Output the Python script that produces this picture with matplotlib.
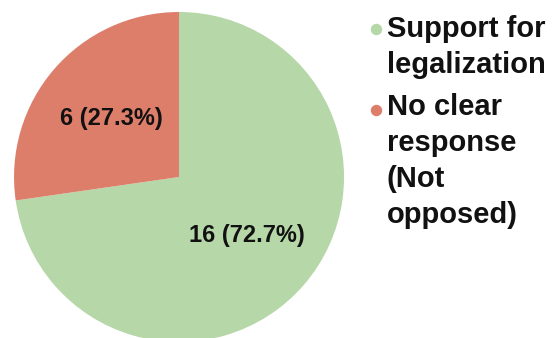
import matplotlib.pyplot as plt
from matplotlib.lines import Line2D

# data
labels = ["Support for\nlegalization", "No clear\nresponse\n(Not\nopposed)"]
counts = [16, 6]
colors = ["#b6d7a8", "#dd7e6b"]

plt.rcParams['font.family'] = ['Liberation Sans', 'DejaVu Sans']

fig = plt.figure(figsize=(5.54, 3.38), dpi=100)
ax = fig.add_axes([0.0253, -0.0118, 0.5957, 0.9763])

total = sum(counts)


def fmt(p):
    return f"{round(p * total / 100)} ({p:.1f}%)"


ax.pie(counts, colors=colors, startangle=90, counterclock=False,
       autopct=fmt, pctdistance=0.545,
       textprops=dict(fontsize=17, fontweight='bold', color='#111111'),
       wedgeprops=dict(linewidth=0))
ax.set_xlim(-1, 1)
ax.set_ylim(-1, 1)

# legend drawn by hand; va='baseline' pins the last line of each label
last_baselines = [73, 223]
dot_y = [29, 110]
for lab, col, base, dy in zip(labels, colors, last_baselines, dot_y):
    fig.text(387 / 554, 1 - base / 338, lab, ha='left', va='baseline',
             fontsize=21, fontweight='bold', color='#111111',
             linespacing=1.36)
    fig.add_artist(Line2D([376 / 554], [1 - dy / 338], marker='o',
                          markersize=7.2, color=col, linestyle='none',
                          transform=fig.transFigure))

fig.savefig('out.png', dpi=100)
